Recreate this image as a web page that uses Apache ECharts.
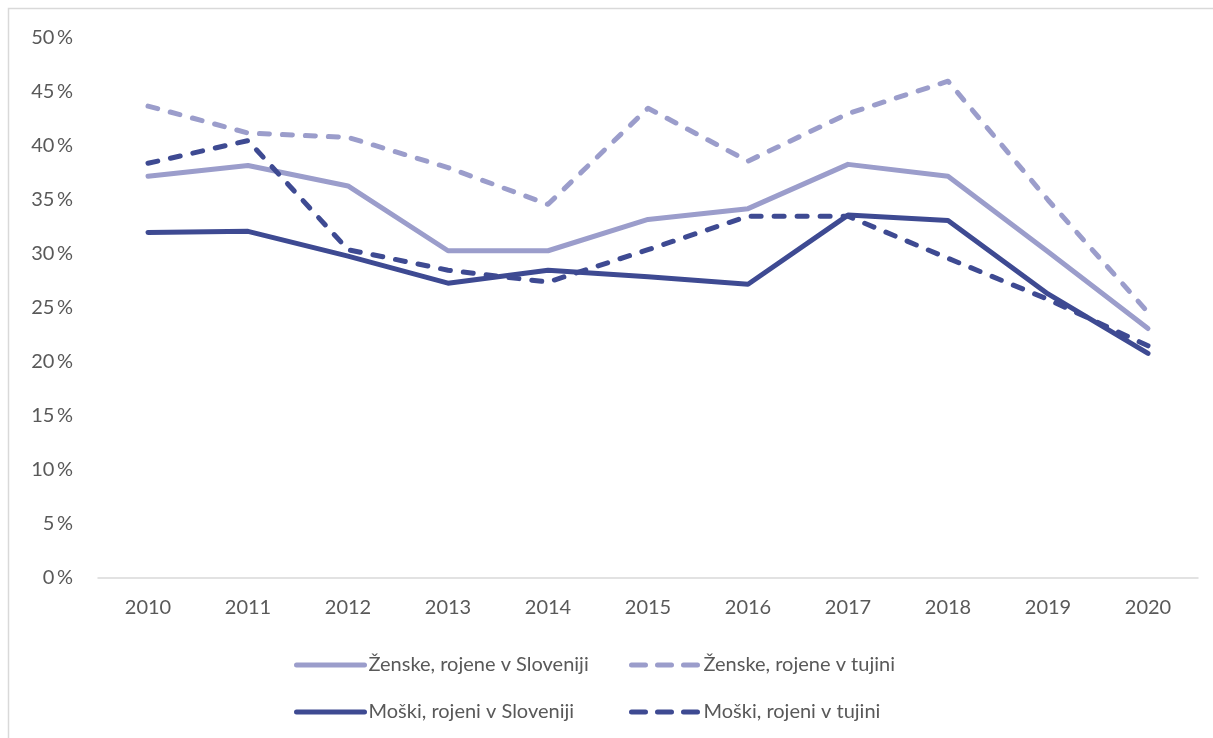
<!DOCTYPE html>
<html>
<head>
<meta charset="utf-8">
<script src="https://cdn.jsdelivr.net/npm/echarts@6/dist/echarts.min.js"></script>
<style>
  html, body { margin: 0; padding: 0; background: #fff; }
  #chart { width: 1213px; height: 738px; }
</style>
</head>
<body>
<div id="chart"></div>
<script>
// Share of people (%) by sex and country of birth, 2010–2020
const years = ['2010', '2011', '2012', '2013', '2014', '2015', '2016', '2017', '2018', '2019', '2020'];
const zenskeSlovenija = [37.2, 38.2, 36.3, 30.3, 30.3, 33.2, 34.2, 38.3, 37.2, 30.2, 23.1];
const zenskeTujina    = [43.7, 41.2, 40.8, 38.0, 34.6, 43.5, 38.6, 43.0, 46.0, 35.0, 24.6];
const moskiSlovenija  = [32.0, 32.1, 29.8, 27.3, 28.5, 27.9, 27.2, 33.6, 33.1, 26.3, 20.8];
const moskiTujina     = [38.4, 40.5, 30.4, 28.5, 27.4, 30.4, 33.5, 33.5, 29.6, 25.8, 21.5];
const seriesNames = [
  'Ženske, rojene v Sloveniji',
  'Ženske, rojene v tujini',
  'Moški, rojeni v Sloveniji',
  'Moški, rojeni v tujini'
];

const LIGHT = '#9b9dcb';
const DARK = '#3e4a92';
const TEXT = '#595959';
const FONT = 'Lato, "Open Sans", sans-serif';
const DASH = [10, 13];
const LEGEND_DASH = [14, 12];

function lineSeries(name, data, color, dashed) {
  return {
    name: name,
    type: 'line',
    data: data,
    symbol: 'none',
    smooth: false,
    lineStyle: {
      color: color,
      width: 5,
      type: dashed ? DASH : 'solid',
      cap: 'round',
      join: 'round'
    },
    itemStyle: { color: color }
  };
}

// one legend entry per block so the two columns line up like a table
function legendAt(name, color, dashed, left, top) {
  return {
    data: [{
      name: name,
      itemStyle: { color: 'rgba(0,0,0,0)', borderWidth: 0, opacity: 0 },
      lineStyle: {
        color: color,
        width: 5,
        type: dashed ? LEGEND_DASH : 'solid',
        cap: 'round',
        opacity: 1
      }
    }],
    left: left,
    top: top,
    padding: 0,
    itemWidth: 68,
    itemHeight: 14,
    itemGap: 0,
    textStyle: { color: TEXT, fontSize: 20, fontFamily: FONT, padding: [0, 0, 0, -1] },
    selectedMode: false
  };
}

const chart = echarts.init(document.getElementById('chart'), null, { renderer: 'canvas' });
chart.setOption({
  backgroundColor: '#ffffff',
  animation: false,
  graphic: [{
    type: 'polyline',
    shape: { points: [[8.5, 738], [8.5, 8.5], [1213, 8.5]] },
    style: { stroke: '#d9d9d9', lineWidth: 1.5, fill: null },
    silent: true
  }],
  grid: { left: 98, right: 15, top: 38, bottom: 160, containLabel: false },
  legend: [
    legendAt(seriesNames[0], LIGHT, false, 294, 655),
    legendAt(seriesNames[1], LIGHT, true, 629, 655),
    legendAt(seriesNames[2], DARK, false, 294, 702),
    legendAt(seriesNames[3], DARK, true, 629, 702)
  ],
  xAxis: {
    type: 'category',
    data: years,
    boundaryGap: true,
    axisLine: { lineStyle: { color: '#d9d9d9', width: 1.5 } },
    axisTick: { show: false },
    axisLabel: { color: TEXT, fontSize: 20, fontFamily: FONT, margin: 20 }
  },
  yAxis: {
    type: 'value',
    min: 0,
    max: 50,
    interval: 5,
    splitLine: { show: false },
    axisLine: { show: false },
    axisTick: { show: false },
    axisLabel: {
      color: TEXT,
      fontSize: 20,
      fontFamily: FONT,
      margin: 25,
      formatter: function (v) { return v + '\u2009%'; }
    }
  },
  series: [
    lineSeries(seriesNames[0], zenskeSlovenija, LIGHT, false),
    lineSeries(seriesNames[1], zenskeTujina, LIGHT, true),
    lineSeries(seriesNames[2], moskiSlovenija, DARK, false),
    lineSeries(seriesNames[3], moskiTujina, DARK, true)
  ]
});
</script>
</body>
</html>
